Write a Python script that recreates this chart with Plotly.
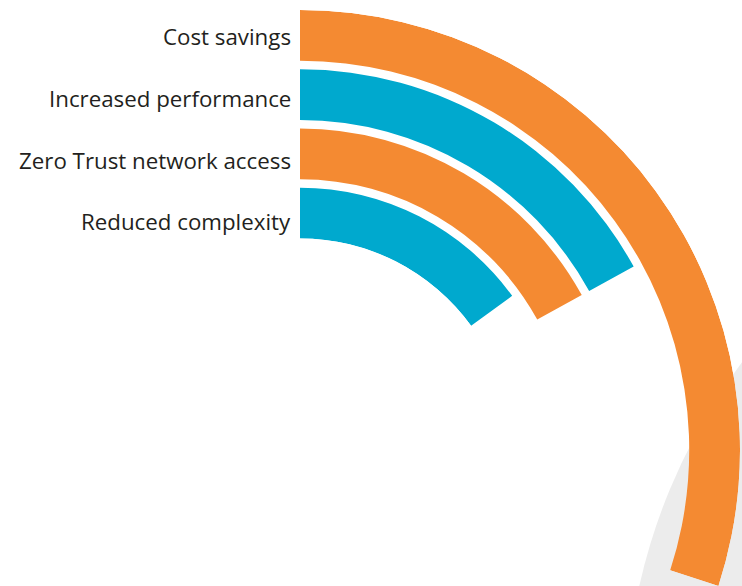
import plotly.graph_objects as go

# Share of respondents naming each benefit (percent)
categories = ["Cost savings", "Increased performance", "Zero Trust network access", "Reduced complexity"]
values = [30, 17, 17, 15]
colors = ["#F48A32", "#00A9CE", "#F48A32", "#00A9CE"]

W, H = 742, 586
CX, TOP = 300, 10          # pixel centre column of the rings and top of the outer ring
R = 440                    # outer radius in px
HOLE = 0.4807              # inner radius / outer radius
BAND = 0.857               # ring thickness as a fraction of the ring pitch
n = len(categories)

fig = go.Figure()
for i, (cat, val, col) in enumerate(zip(categories, values, colors)):
    ring = n - 1 - i       # first category sits on the outermost ring
    span = val * 3.6       # percent -> degrees
    fig.add_trace(go.Barpolar(
        r=[BAND], base=[ring], theta=[span / 2], width=[span],
        marker=dict(color=col, line=dict(width=0)),
        name=cat, hoverinfo="name",
    ))

# Labels to the left of the ring starts
label_top, label_step = 37, 61.5
for i, cat in enumerate(categories):
    y_px = label_top + i * label_step
    fig.add_annotation(
        x=293 / W, y=1 - y_px / H, xref="paper", yref="paper",
        text=cat, showarrow=False, xanchor="right", yanchor="middle",
        font=dict(family="Open Sans", size=22.3, color="#231F20"),
    )

# Light grey backdrop disc in the lower right corner
gx, gy, gr = 1215, 715, 590
fig.add_shape(
    type="circle", xref="paper", yref="paper", layer="below",
    x0=(gx - gr) / W, x1=(gx + gr) / W,
    y0=1 - (gy + gr) / H, y1=1 - (gy - gr) / H,
    fillcolor="#ECECEC", line=dict(width=0),
)

fig.update_layout(
    width=W, height=H,
    margin=dict(l=0, r=0, t=0, b=0),
    paper_bgcolor="white",
    showlegend=False,
    polar=dict(
        domain=dict(x=[CX / W, (CX + R) / W], y=[0, 1 - TOP / H]),
        sector=[-18, 90],
        hole=HOLE,
        bgcolor="rgba(0,0,0,0)",
        bargap=0,
        radialaxis=dict(range=[0, n - 1 + BAND], visible=False),
        angularaxis=dict(rotation=90, direction="clockwise", visible=False),
    ),
)

fig.write_html("out.html")
